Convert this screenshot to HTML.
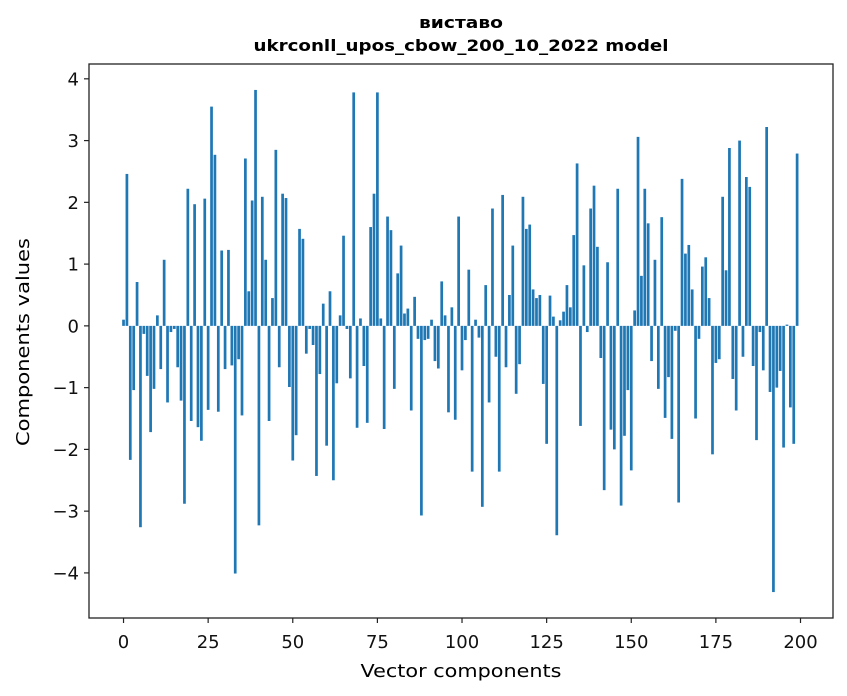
<!DOCTYPE html>
<html><head><meta charset="utf-8"><style>
body{margin:0;background:#fff;}
svg{display:block;font-family:"DejaVu Sans","Liberation Sans",sans-serif;}
</style></head><body>
<svg id="chart" width="847" height="696" viewBox="0 0 847 696" xmlns="http://www.w3.org/2000/svg">
<rect x="0" y="0" width="847" height="696" fill="#fff"/>
<text x="461" y="28" text-anchor="middle" font-size="16" font-weight="bold" textLength="84" lengthAdjust="spacingAndGlyphs">виставо</text>
<text x="461" y="51" text-anchor="middle" font-size="16" font-weight="bold" textLength="415" lengthAdjust="spacingAndGlyphs">ukrconll_upos_cbow_200_10_2022 model</text>
<g id="bars"></g>
<g id="axes"></g>
<text x="461" y="677" text-anchor="middle" font-size="18" textLength="201" lengthAdjust="spacingAndGlyphs">Vector components</text>
<text x="0" y="0" transform="translate(29,342) rotate(-90)" text-anchor="middle" font-size="18" textLength="208" lengthAdjust="spacingAndGlyphs">Components values</text>
</svg>
<script>
const values = [0.10,2.46,-2.17,-1.04,0.71,-3.26,-0.13,-0.81,-1.72,-1.02,0.17,-0.70,1.07,-1.24,-0.10,-0.05,-0.67,-1.21,-2.88,2.22,-1.54,1.97,-1.64,-1.86,2.06,
-1.36,3.55,2.77,-1.39,1.22,-0.70,1.23,-0.64,-4.01,-0.54,-1.45,2.71,0.56,2.03,3.82,-3.23,2.09,1.07,-1.54,0.45,2.85,-0.67,2.14,2.07,-0.99,
-2.18,-1.77,1.57,1.41,-0.45,-0.05,-0.31,-2.43,-0.78,0.36,-1.94,0.56,-2.50,-0.93,0.17,1.46,-0.05,-0.85,3.78,-1.65,0.12,-0.65,-1.57,1.60,2.14,
3.78,0.12,-1.67,1.77,1.55,-1.02,0.85,1.30,0.20,0.28,-1.37,0.47,-0.21,-3.07,-0.23,-0.21,0.10,-0.57,-0.69,0.72,0.17,-1.40,0.30,-1.52,1.77,
-0.72,-0.23,0.91,-2.36,0.10,-0.19,-2.93,0.66,-1.24,1.90,-0.50,-2.36,2.12,-0.67,0.50,1.30,-1.10,-0.62,2.09,1.57,1.64,0.59,0.45,0.50,-0.94,
-1.91,0.49,0.15,-3.39,0.09,0.23,0.66,0.30,1.47,2.63,-1.62,0.98,-0.10,1.90,2.27,1.28,-0.52,-2.66,1.03,-1.68,-2.00,2.22,-2.91,-1.78,-1.04,
-2.34,0.25,3.06,0.81,2.22,1.66,-0.57,1.07,-1.02,1.76,-1.49,-0.83,-1.83,-0.08,-2.86,2.38,1.17,1.31,0.59,-1.50,-0.21,0.96,1.11,0.45,-2.08,
-0.60,-0.54,2.09,0.90,2.88,-0.86,-1.37,3.00,-0.50,2.41,2.25,-0.65,-1.85,-0.10,-0.72,3.22,-1.07,-4.31,-1.00,-0.73,-1.97,0.02,-1.32,-1.91,2.79];
const xTicks = [0,25,50,75,100,125,150,175,200];
const yTicks = [-4,-3,-2,-1,0,1,2,3,4];
const yTickLabels = ["\u22124","\u22123","\u22122","\u22121","0","1","2","3","4"];

const L=89,R=833,T=64,B=618;
const xMin=-10.2,xMax=209.6,yMin=-4.73,yMax=4.24;
const sx=v=>L+(v-xMin)/(xMax-xMin)*(R-L);
const sy=v=>B-(v-yMin)/(yMax-yMin)*(B-T);
const NS="http://www.w3.org/2000/svg";
const bars=document.getElementById('bars');
values.forEach((v,i)=>{
  const r=document.createElementNS(NS,'rect');
  const x0=sx(i-0.4),x1=sx(i+0.4);
  const y0=sy(Math.max(v,0)),y1=sy(Math.min(v,0));
  r.setAttribute('x',x0);r.setAttribute('width',x1-x0);
  r.setAttribute('y',y0);r.setAttribute('height',Math.max(y1-y0,0.3));
  r.setAttribute('fill','#1f77b4');
  
  
  bars.appendChild(r);
});
const axes=document.getElementById('axes');
function mk(tag,attrs,txt){const e=document.createElementNS(NS,tag);for(const k in attrs)e.setAttribute(k,attrs[k]);if(txt!==undefined)e.textContent=txt;axes.appendChild(e);return e;}
const frame=mk('rect',{x:L,y:T,width:R-L,height:B-T,fill:'none',stroke:'#222','stroke-width':1.3});


xTicks.forEach(t=>{
  const x=sx(t);
  const ln=mk('line',{x1:x,x2:x,y1:B,y2:B+5,stroke:'#222','stroke-width':1.2});
  
  
  const tx=mk('text',{x:x,y:B+30,'text-anchor':'middle','font-size':18,fill:'#111'},String(t));
  
  
});
yTicks.forEach((t,k)=>{
  const y=sy(t);
  const ln=mk('line',{x1:L-5,x2:L,y1:y,y2:y,stroke:'#222','stroke-width':1.2});
  
  
  const tx=mk('text',{x:L-10,y:y+6.5,'text-anchor':'end','font-size':18,fill:'#111'},yTickLabels[k]);
  
  
});
</script>
</body></html>
